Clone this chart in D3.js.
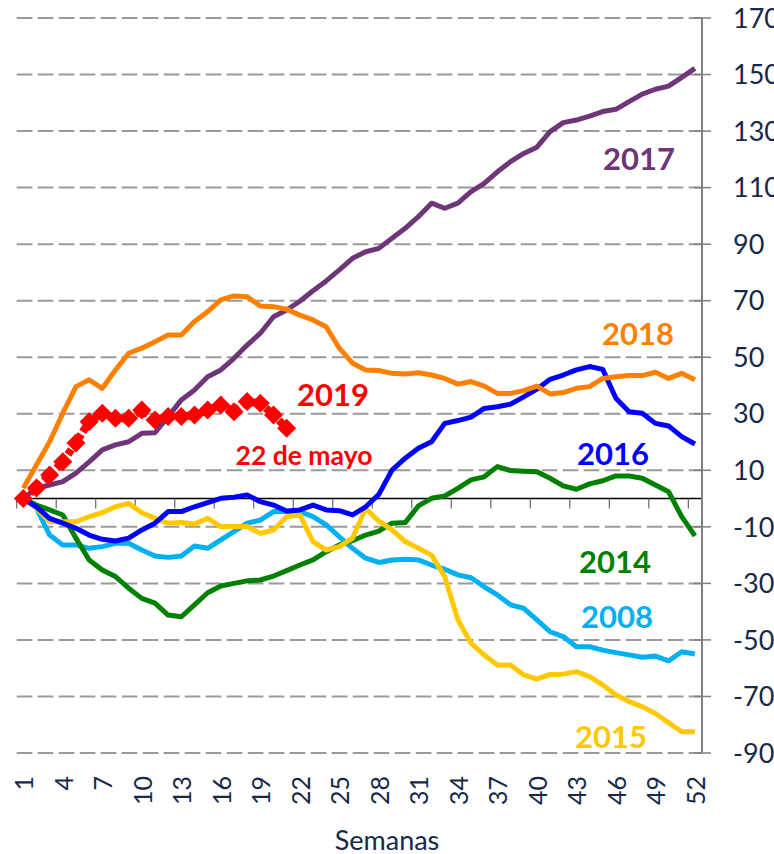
<!DOCTYPE html>
<html>
<head>
  <meta charset="utf-8">
  <script src="https://d3js.org/d3.v7.min.js"></script>
  <style>
    body { margin: 0; background: #fff; }
    text { font-family: Lato, "Open Sans", sans-serif; }
  </style>
</head>
<body>
<div id="chart"></div>
<script>
// weeks 1..52
var weeks = d3.range(1, 53);
var xLabels = [1, 4, 7, 10, 13, 16, 19, 22, 25, 28, 31, 34, 37, 40, 43, 46, 49, 52];
var yTicks = [170, 150, 130, 110, 90, 70, 50, 30, 10, -10, -30, -50, -70, -90];

var y2008 = [0, -3.4, -12.9, -16.4, -16.4, -17.6, -17, -15.8, -15.8, -18.2, -20.3, -20.8, -20.3, -16.8, -17.6, -14.6, -11.7, -8.7, -7.6, -4.6,
  -4.6, -4.6, -6.4, -9.3, -13.5, -17.6, -21.1, -22.6, -21.7, -21.5, -21.7, -23.5, -25, -27, -28, -31.2, -34.1, -37.6, -38.8, -42.9,
  -47.1, -48.8, -52.4, -52.4, -53.6, -54.5, -55.3, -56.1, -55.7, -57.4, -54.2, -55];
var y2014 = [0, -2.3, -4, -5.8, -14, -21.7, -25.3, -27.6, -31.7, -35.3, -37, -41.2, -41.8, -37.6, -33.3, -30.9, -30, -29.1, -28.8, -27.4,
  -25.5, -23.5, -21.7, -18.8, -16.4, -14.9, -12.9, -11.5, -8.7, -8.5, -2.6, 0.1, 0.9, 3.6, 6.6, 7.7, 11.3, 9.9, 9.7, 9.5,
  7.2, 4.5, 3.3, 5.2, 6.3, 8, 8, 7.2, 4.8, 2.4, -6.4, -13.2];
var y2015 = [0, -3.4, -8.2, -8.2, -8.2, -6.4, -5, -2.9, -1.7, -5, -7, -8.7, -8.5, -9, -7, -9.9, -9.9, -9.9, -12.3, -11.1,
  -6.4, -5.8, -15.2, -18.2, -17, -14, -3.5, -8, -11.1, -15.2, -17.6, -20, -27.6, -42.9, -51.2, -55.3, -58.9, -58.9, -62.4, -63.9,
  -62.2, -62.1, -61.2, -63, -65.9, -69.5, -71.8, -73.6, -76, -79.3, -82.5, -82.5];
var y2016 = [0, -2.9, -7, -8.7, -10.5, -12.9, -14.4, -15, -14, -11.1, -8.7, -4.6, -4.6, -2.9, -1.4, 0.1, 0.5, 1.3, -1.1, -2.3,
  -4.4, -4, -2.3, -4, -4.3, -5.8, -2.9, 1.5, 10.1, 14.3, 17.8, 20.1, 26.6, 27.6, 28.8, 31.9, 32.5, 33.4, 36, 38.7,
  42.2, 43.7, 45.5, 46.7, 45.7, 35.5, 30.7, 30.2, 26.6, 25.7, 21.9, 19.3];
var y2017 = [0, 3.7, 4.8, 6, 9, 13, 17.2, 19, 20.1, 23.1, 23.3, 29, 34.9, 38.4, 43.1, 45.5, 49.6, 54.3, 58.5, 64.3,
  66.7, 69.8, 73.5, 77, 80.9, 85, 87.3, 88.5, 92.1, 95.6, 99.7, 104.5, 102.7, 104.5, 108.6, 111.5, 115.6, 119.2, 122.1, 124.3,
  129.8, 133, 133.9, 135.3, 136.9, 137.7, 140.4, 143.1, 144.8, 145.9, 149, 152.2];
var y2018 = [3.7, 11.9, 20.1, 30.2, 39.6, 42, 39, 45.5, 51.4, 53.2, 55.5, 57.9, 57.9, 62.6, 66.1, 70.3, 71.7, 71.4, 68.1, 67.9,
  67, 64.9, 63.2, 60.8, 53.2, 47.9, 45.5, 45.3, 44.3, 44.1, 44.5, 43.7, 42.5, 40.5, 41.4, 39.8, 37.2, 37.2, 38.2, 39.8,
  37, 37.5, 39, 39.6, 42.5, 43.1, 43.5, 43.5, 44.7, 42.5, 44.3, 42];
var y2019 = [0, 3.7, 8.3, 13, 19.7, 27.2, 30.2, 28.4, 28.4, 31.3, 27.8, 29, 29, 29.6, 31.3, 33.1, 30.7, 34.3, 33.7, 29.6, 24.9];

var series = [
  {name: "2008", values: y2008, color: "#00b0f0", lx: 617, ly: 628},
  {name: "2014", values: y2014, color: "#008000", lx: 615, ly: 573},
  {name: "2015", values: y2015, color: "#ffc800", lx: 611, ly: 748},
  {name: "2016", values: y2016, color: "#0000ff", lx: 613, ly: 465},
  {name: "2017", values: y2017, color: "#6f3579", lx: 639, ly: 170},
  {name: "2018", values: y2018, color: "#ff8000", lx: 638, ly: 345}
];

var width = 774, height = 854;
var svg = d3.select("#chart").append("svg")
  .attr("width", width).attr("height", height);

var x = d3.scaleBand().domain(weeks).range([16.7, 701.5]).padding(0);
var y = d3.scaleLinear().domain([-90, 170]).range([753, 18]);
var cx = function(w) { return x(w) + x.bandwidth() / 2; };

// dashed gridlines
svg.append("g").selectAll("line")
  .data(yTicks).enter().append("line")
  .attr("x1", 16.7).attr("x2", 702)
  .attr("y1", function(d) { return y(d); }).attr("y2", function(d) { return y(d); })
  .attr("stroke", "#9a9a9a").attr("stroke-width", 2)
  .attr("stroke-dasharray", "15.7,5.3");

// x axis line at 0 with ticks between categories
svg.append("line")
  .attr("x1", 16.7).attr("x2", 702).attr("y1", y(0)).attr("y2", y(0))
  .attr("stroke", "#000").attr("stroke-width", 1.5);
svg.append("g").selectAll("line")
  .data(xLabels).enter().append("line")
  .attr("x1", function(d) { return x(d); }).attr("x2", function(d) { return x(d); })
  .attr("y1", y(0)).attr("y2", y(0) + 10)
  .attr("stroke", "#666").attr("stroke-width", 1.2);

// right y axis
svg.append("line")
  .attr("x1", 702).attr("x2", 702).attr("y1", y(170)).attr("y2", y(-90))
  .attr("stroke", "#808080").attr("stroke-width", 2);
svg.append("g").selectAll("line")
  .data(yTicks).enter().append("line")
  .attr("x1", 694).attr("x2", 711)
  .attr("y1", function(d) { return y(d); }).attr("y2", function(d) { return y(d); })
  .attr("stroke", "#808080").attr("stroke-width", 1.5);
svg.append("g").selectAll("text")
  .data(yTicks).enter().append("text")
  .attr("x", 733).attr("y", function(d) { return y(d); })
  .attr("dy", "0.36em")
  .attr("font-size", 27).attr("fill", "#17294a")
  .text(function(d) { return d; });

// x tick labels (rotated)
svg.append("g").selectAll("text")
  .data(xLabels).enter().append("text")
  .attr("transform", function(d) { return "translate(" + (cx(d) + 1) + ",776)rotate(-90)"; })
  .attr("text-anchor", "end").attr("dy", "0.36em")
  .attr("font-size", 25).attr("fill", "#17294a")
  .text(function(d) { return d; });

svg.append("text")
  .attr("x", 387).attr("y", 850).attr("text-anchor", "middle")
  .attr("font-size", 27).attr("fill", "#17294a")
  .text("Semanas");

// lines
var line = d3.line()
  .x(function(d, i) { return cx(weeks[i]); })
  .y(function(d) { return y(d); });

series.forEach(function(s) {
  svg.append("path")
    .datum(s.values)
    .attr("d", line)
    .attr("fill", "none")
    .attr("stroke", s.color)
    .attr("stroke-width", 5)
    .attr("stroke-linejoin", "round");
  svg.append("text")
    .attr("x", s.lx).attr("y", s.ly)
    .attr("text-anchor", "middle")
    .attr("font-size", 31).attr("font-weight", "bold")
    .attr("fill", s.color)
    .text(s.name);
});

// 2019: dashed red with diamonds
svg.append("path")
  .datum(y2019)
  .attr("d", line)
  .attr("fill", "none")
  .attr("stroke", "#ff0000")
  .attr("stroke-width", 8)
  .attr("stroke-dasharray", "6,3");
svg.append("g").selectAll("path")
  .data(y2019).enter().append("path")
  .attr("d", d3.symbol().type(d3.symbolDiamond2).size(230))
  .attr("transform", function(d, i) { return "translate(" + cx(weeks[i]) + "," + y(d) + ")"; })
  .attr("fill", "#ff0000");

svg.append("text")
  .attr("x", 333).attr("y", 406).attr("text-anchor", "middle")
  .attr("font-size", 31).attr("font-weight", "bold").attr("fill", "#ff0000")
  .text("2019");
svg.append("text")
  .attr("x", 304).attr("y", 465).attr("text-anchor", "middle")
  .attr("font-size", 26.5).attr("font-weight", "bold").attr("fill", "#ff0000")
  .text("22 de mayo");
</script>
</body>
</html>
